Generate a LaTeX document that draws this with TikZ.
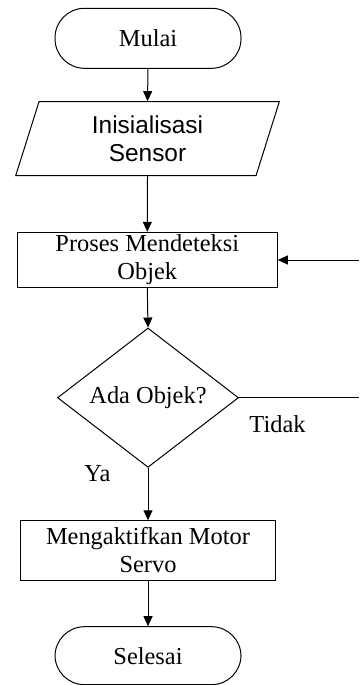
\documentclass[tikz,border=0pt]{standalone}
\usepackage{fontspec}
\setmainfont{Liberation Serif}
\newfontfamily\arialfont{Liberation Sans}
\usetikzlibrary{arrows.meta,shapes.geometric,shapes.misc}
\begin{document}
\begin{tikzpicture}[x=1pt,y=-1pt,
  font=\fontsize{24.4}{28}\selectfont,
  base/.style={draw=black, line width=1pt, inner sep=0pt, align=center, text=black},
  term/.style={base, rectangle, rounded corners=29.5pt, minimum width=186pt},
  procbox/.style={base, rectangle},
  iobox/.style={base, trapezium, trapezium left angle=63.1, trapezium right angle=116.9,
    trapezium stretches body=true, minimum width=263.6pt, minimum height=74pt},
  decbox/.style={base, diamond, minimum width=181pt, minimum height=135pt},
  arr/.style={draw=black, line width=1pt, -{Triangle[length=10pt,width=9pt]}},
  ln/.style={draw=black, line width=1pt},
  lbl/.style={inner sep=0pt, text=black}]
\useasboundingbox (0,0) rectangle (359,685);
\node[term, minimum height=60pt] (start) at (148,38.3) {Mulai};
\node[iobox] (init) at (147.5,138.7) {\arialfont Inisialisasi\\\arialfont Sensor};
\node[procbox, minimum width=260pt, minimum height=55.4pt] (proc) at (147.3,260) {Proses Mendeteksi\\Objek};
\node[decbox] (dec) at (148,397.7) {Ada Objek?};
\node[procbox, minimum width=254.6pt, minimum height=59.3pt] (servo) at (148,550.4) {Mengaktifkan Motor\\Servo};
\node[term, minimum height=58pt] (stop) at (148,655.7) {Selesai};
\node[lbl] (tidak) at (277.5,424.6) {Tidak};
\node[lbl] (ya) at (97.5,473.6) {Ya};
\coordinate (r1) at (359,260);
\coordinate (r2) at (359,397.7);
\draw[arr] (start.south) -- (init.north);
\draw[arr] (init.south) -- (proc.north);
\draw[arr] (proc.south) -- (dec.north);
\draw[arr] (dec.south) -- (servo.north);
\draw[arr] (servo.south) -- (stop.north);
\draw[arr] (r1) -- (proc.east);
\draw[ln] (dec.east) -- (r2);
\end{tikzpicture}
\end{document}
